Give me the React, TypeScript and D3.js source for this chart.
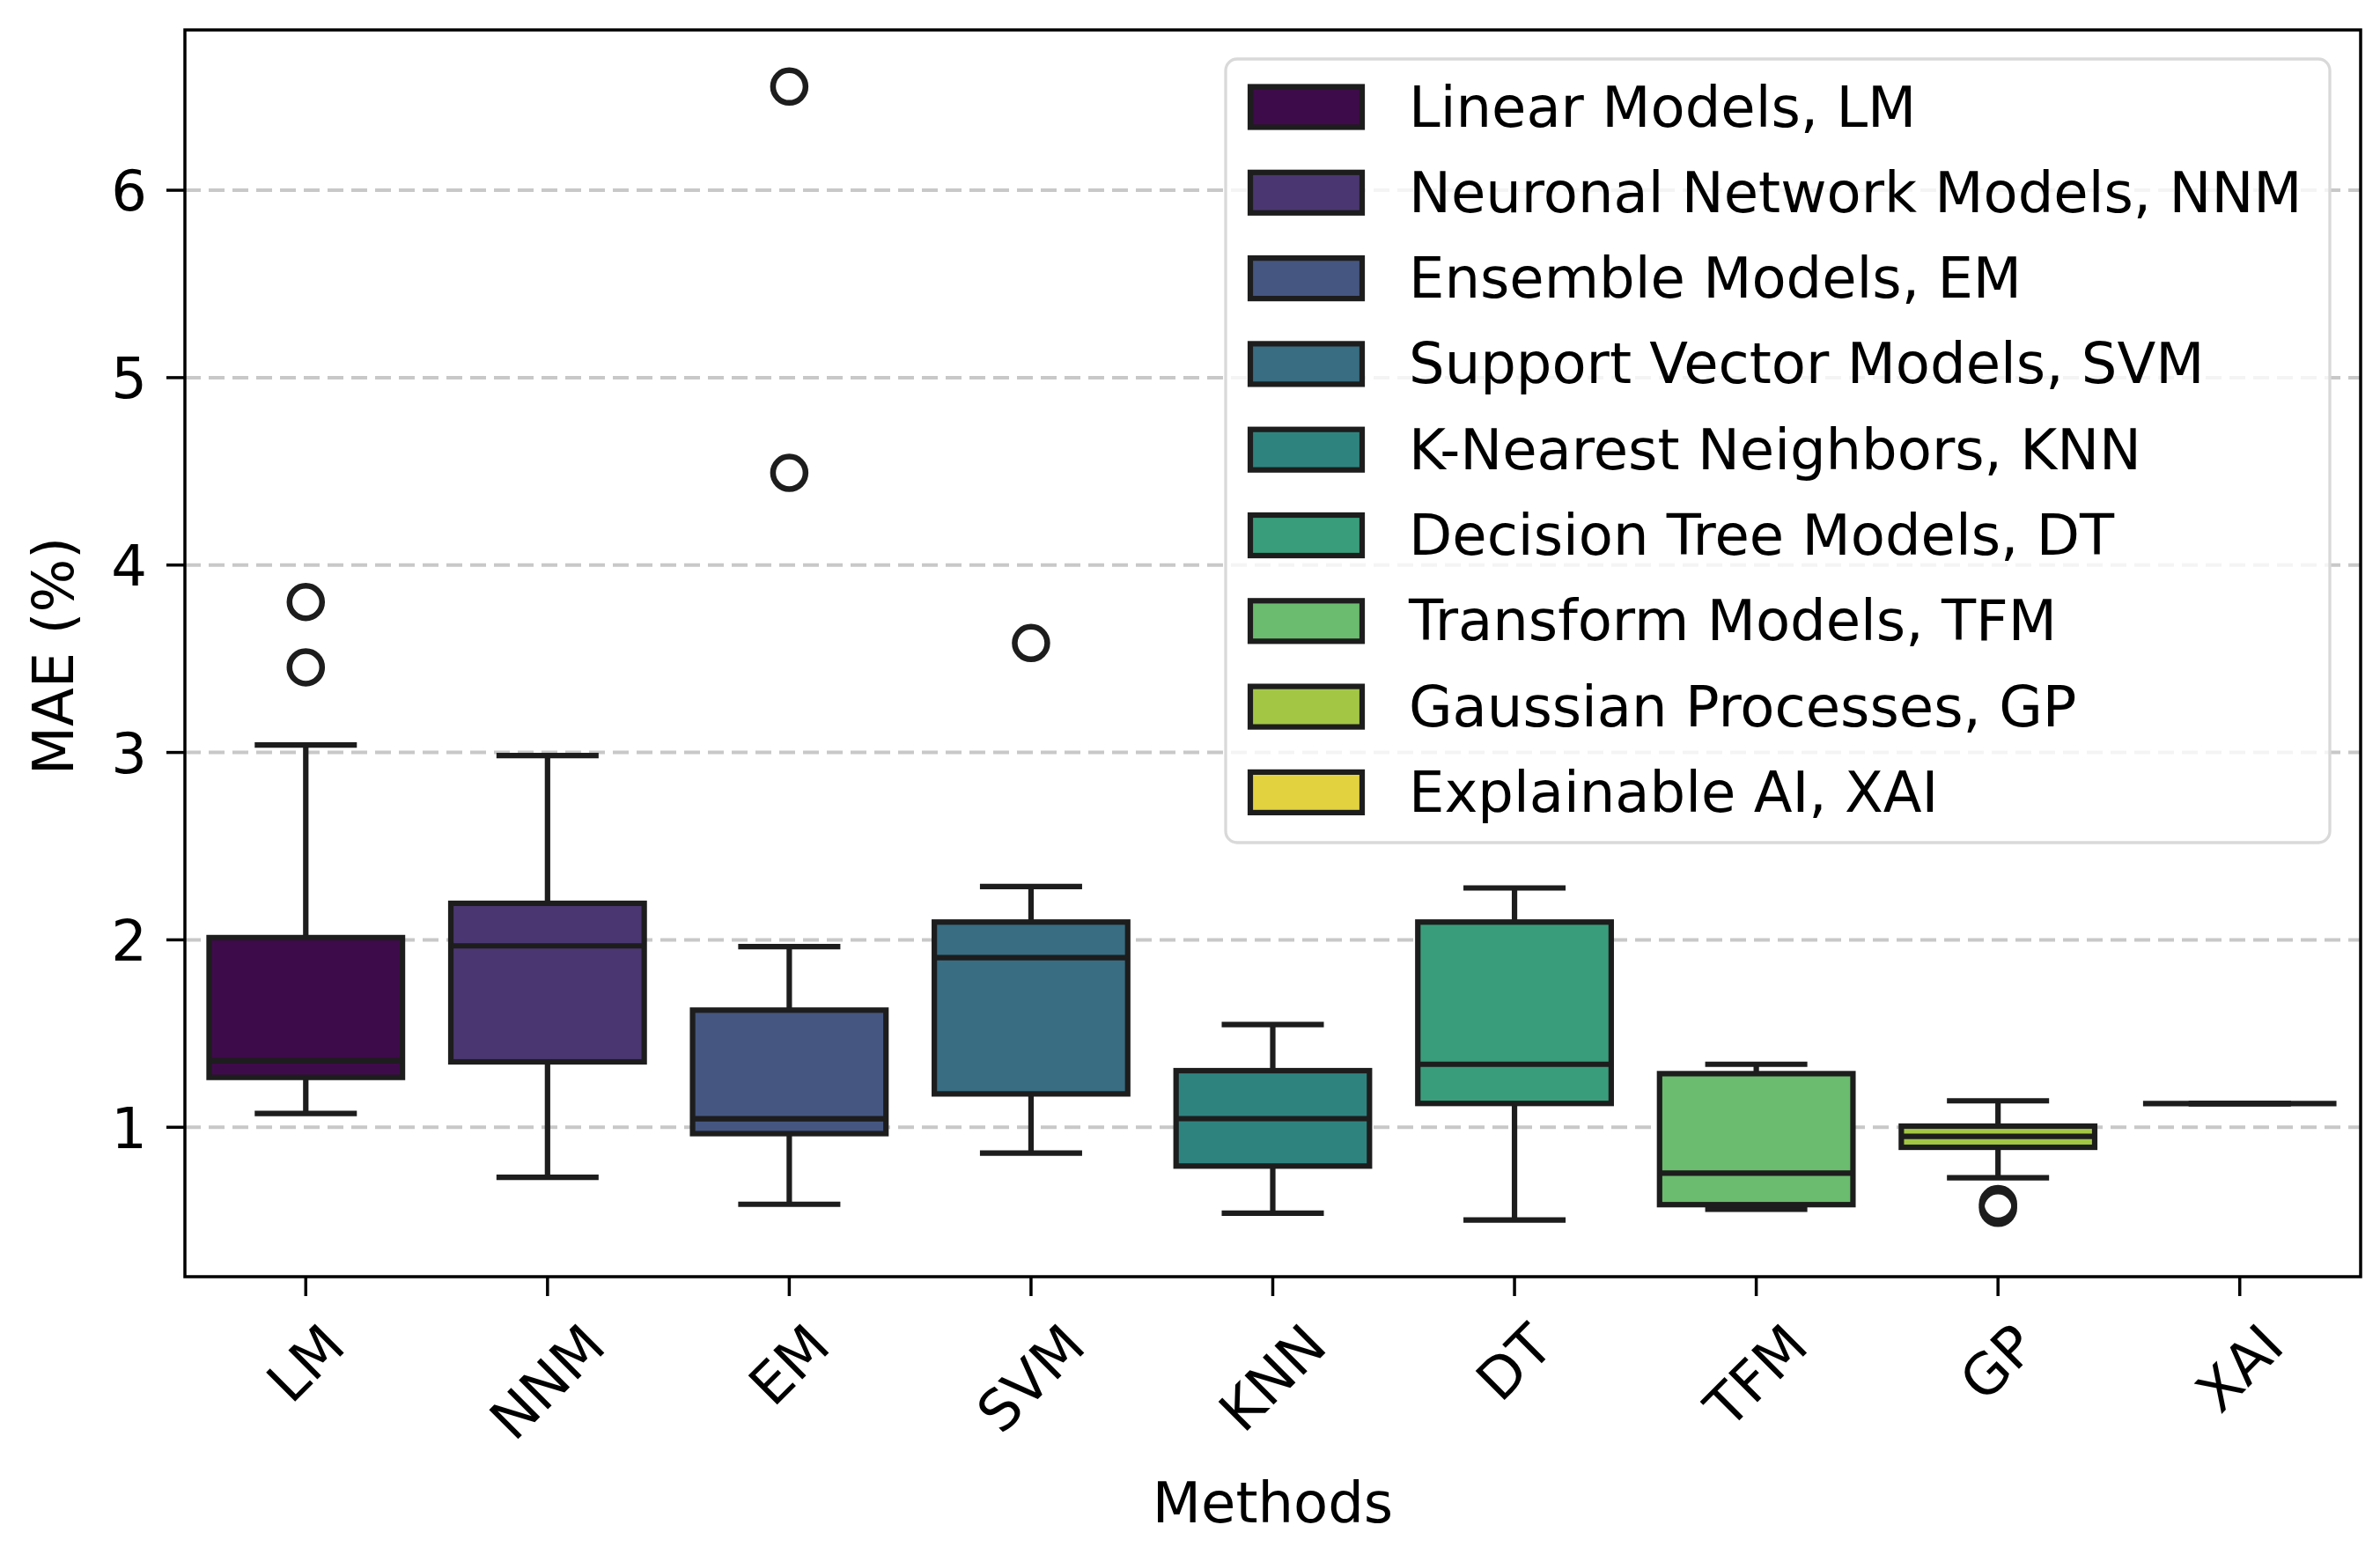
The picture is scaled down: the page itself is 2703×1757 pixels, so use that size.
import React, { useMemo } from "react";
import * as d3 from "d3";

// ---------- data ----------
const categories = ["LM", "NNM", "EM", "SVM", "KNN", "DT", "TFM", "GP", "XAI"];
const legendLabels = [
  "Linear Models, LM",
  "Neuronal Network Models, NNM",
  "Ensemble Models, EM",
  "Support Vector Models, SVM",
  "K-Nearest Neighbors, KNN",
  "Decision Tree Models, DT",
  "Transform Models, TFM",
  "Gaussian Processes, GP",
  "Explainable AI, XAI",
];
const whiskerLow = [1.074, 0.733, 0.589, 0.862, 0.541, 0.505, 0.563, 0.731, 1.126];
const q1 = [1.266, 1.349, 0.966, 1.178, 0.793, 1.127, 0.587, 0.893, 1.126];
const median = [1.355, 1.968, 1.045, 1.905, 1.046, 1.336, 0.755, 0.951, 1.126];
const q3 = [2.012, 2.195, 1.625, 2.095, 1.302, 2.095, 1.286, 1.006, 1.126];
const whiskerHigh = [3.04, 2.983, 1.964, 2.285, 1.548, 2.277, 1.336, 1.141, 1.126];
const outliers: number[][] = [[3.803, 3.454], [], [6.553, 4.492], [3.584], [], [], [], [0.57, 0.59], []];
const yTicks = [1, 2, 3, 4, 5, 6];
const xLabel = "Methods";
const yLabel = "MAE (%)";

// ---------- layout ----------
const W = 2703;
const H = 1757;
const left = 210;
const right = 2681;
const top = 34;
const bottom = 1450;
const FS = 64;
const FONT = "'DejaVu Sans', Verdana, sans-serif";
const LINE = "#1d1d1d";

function desat(c: string, s: number) {
  const h = d3.hsl(c);
  h.s *= s;
  return h.formatHex();
}

function measure(text: string, fs: number) {
  try {
    const cv = document.createElement("canvas");
    const ctx = cv.getContext("2d");
    if (ctx) {
      ctx.font = `${fs}px 'DejaVu Sans'`;
      return ctx.measureText(text).width;
    }
  } catch (e) {}
  return text.length * fs * 0.62;
}

export default function App() {
  const colors = categories.map((_, i) => desat(d3.interpolateViridis(i / (categories.length - 1)), 0.75));

  const allVals = [...whiskerLow, ...whiskerHigh, ...outliers.flat()];
  const lo = d3.min(allVals) as number;
  const hi = d3.max(allVals) as number;
  const m = (hi - lo) * 0.05;
  const y = d3.scaleLinear().domain([lo - m, hi + m]).range([bottom, top]);
  const x = d3.scaleBand<string>().domain(categories).range([left, right]).paddingInner(0).paddingOuter(0);
  const bw = x.bandwidth() * 0.8;
  const lw = 6.2;

  const xLabelPos = useMemo(
    () =>
      categories.map((c) => {
        const w = measure(c, FS);
        const h = FS * 1.17;
        const ext = (w + h) * Math.SQRT1_2;
        return { cx: (x(c) as number) + x.bandwidth() / 2, cy: bottom + 20 + 20 + ext / 2 };
      }),
    []
  );

  // legend geometry
  const lgX = 1392;
  const lgY = 67;
  const lgW = 2646 - 1392;
  const lgH = 957 - 67;
  const rowH = 97.3;
  const row0 = 121.5;

  return (
    <svg
      width={W}
      height={H}
      viewBox={`0 0 ${W} ${H}`}
      style={{ position: "absolute", left: 0, top: 0, background: "#fff", fontFamily: FONT }}
    >
      <rect x={0} y={0} width={W} height={H} fill="#fff" />
      {/* grid */}
      {yTicks.map((t) => (
        <line
          key={"g" + t}
          x1={left}
          x2={right}
          y1={y(t)}
          y2={y(t)}
          stroke="#c8c8c8"
          strokeWidth={4}
          strokeDasharray="18 9"
        />
      ))}
      {/* boxes */}
      {categories.map((c, i) => {
        const cx = (x(c) as number) + x.bandwidth() / 2;
        const x0 = cx - bw / 2;
        const capW = bw / 2;
        return (
          <g key={c}>
            <line x1={cx} x2={cx} y1={y(q3[i])} y2={y(whiskerHigh[i])} stroke={LINE} strokeWidth={lw} />
            <line x1={cx} x2={cx} y1={y(q1[i])} y2={y(whiskerLow[i])} stroke={LINE} strokeWidth={lw} />
            <line
              x1={cx - capW / 2}
              x2={cx + capW / 2}
              y1={y(whiskerHigh[i])}
              y2={y(whiskerHigh[i])}
              stroke={LINE}
              strokeWidth={lw}
              strokeLinecap="square"
            />
            <line
              x1={cx - capW / 2}
              x2={cx + capW / 2}
              y1={y(whiskerLow[i])}
              y2={y(whiskerLow[i])}
              stroke={LINE}
              strokeWidth={lw}
              strokeLinecap="square"
            />
            <rect
              x={x0}
              y={y(q3[i])}
              width={bw}
              height={Math.max(0, y(q1[i]) - y(q3[i]))}
              fill={colors[i]}
              stroke={LINE}
              strokeWidth={lw}
            />
            <line x1={x0} x2={x0 + bw} y1={y(median[i])} y2={y(median[i])} stroke={LINE} strokeWidth={lw} />
            {outliers[i].map((v, k) => (
              <circle key={k} cx={cx} cy={y(v)} r={18.5} fill="none" stroke={LINE} strokeWidth={6.5} />
            ))}
          </g>
        );
      })}
      {/* spines */}
      <rect x={left} y={top} width={right - left} height={bottom - top} fill="none" stroke="#000" strokeWidth={3.5} />
      {/* y ticks */}
      {yTicks.map((t) => (
        <g key={"yt" + t}>
          <line x1={left - 21} x2={left} y1={y(t)} y2={y(t)} stroke="#000" strokeWidth={3.5} />
          <text x={167} y={y(t) + FS * 0.364} textAnchor="end" fontSize={FS} fill="#000">
            {t}
          </text>
        </g>
      ))}
      {/* x ticks */}
      {categories.map((c, i) => {
        const cx = (x(c) as number) + x.bandwidth() / 2;
        const p = xLabelPos[i];
        return (
          <g key={"xt" + c}>
            <line x1={cx} x2={cx} y1={bottom} y2={bottom + 22} stroke="#000" strokeWidth={3.5} />
            <text
              transform={`translate(${p.cx},${p.cy}) rotate(-45)`}
              textAnchor="middle"
              dominantBaseline="central"
              fontSize={FS}
              fill="#000"
            >
              {c}
            </text>
          </g>
        );
      })}
      {/* axis labels */}
      <text x={(left + right) / 2} y={1729} textAnchor="middle" fontSize={FS} fill="#000">
        {xLabel}
      </text>
      <text transform={`translate(83,745) rotate(-90)`} textAnchor="middle" fontSize={FS} fill="#000">
        {yLabel}
      </text>
      {/* legend */}
      <rect
        x={lgX}
        y={lgY}
        width={lgW}
        height={lgH}
        rx={13}
        ry={13}
        fill="#fff"
        fillOpacity={0.8}
        stroke="#d9d9d9"
        strokeWidth={3.3}
      />
      {legendLabels.map((lab, i) => {
        const cy = row0 + i * rowH;
        return (
          <g key={"lg" + i}>
            <rect x={1420} y={cy - 23} width={127} height={46} fill={colors[i]} stroke={LINE} strokeWidth={lw} />
            <text x={1600} y={cy} dominantBaseline="central" fontSize={FS} fill="#000">
              {lab}
            </text>
          </g>
        );
      })}
    </svg>
  );
}
